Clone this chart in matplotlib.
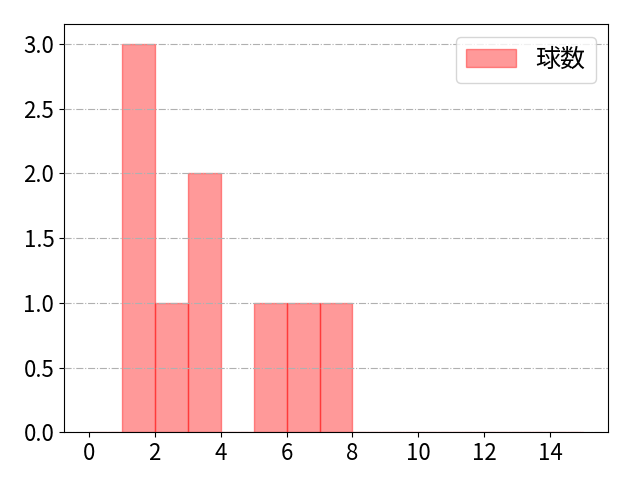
import matplotlib
matplotlib.use("Agg")
import matplotlib.pyplot as plt

plt.rcParams['font.family'] = ['Noto Sans CJK JP', 'DejaVu Sans']

pitch_values = [1, 1, 1, 2, 3, 3, 5, 6, 7]
bin_edges = list(range(0, 16))
xtick_values = list(range(0, 16, 2))
label = "球数"

fig, ax = plt.subplots(figsize=(6.4, 4.8), dpi=100)
ax.hist(pitch_values, bins=bin_edges, color='red', alpha=0.4, edgecolor='red', label=label)
ax.set_xticks(xtick_values)
ax.grid(axis='y', linestyle='-.', color='#b0b0b0')
ax.set_axisbelow(False)
ax.tick_params(labelsize=16)
ax.legend(fontsize=18, loc='upper right')
fig.subplots_adjust(left=0.1, right=0.95, top=0.949, bottom=0.099)
fig.savefig("out.png")
